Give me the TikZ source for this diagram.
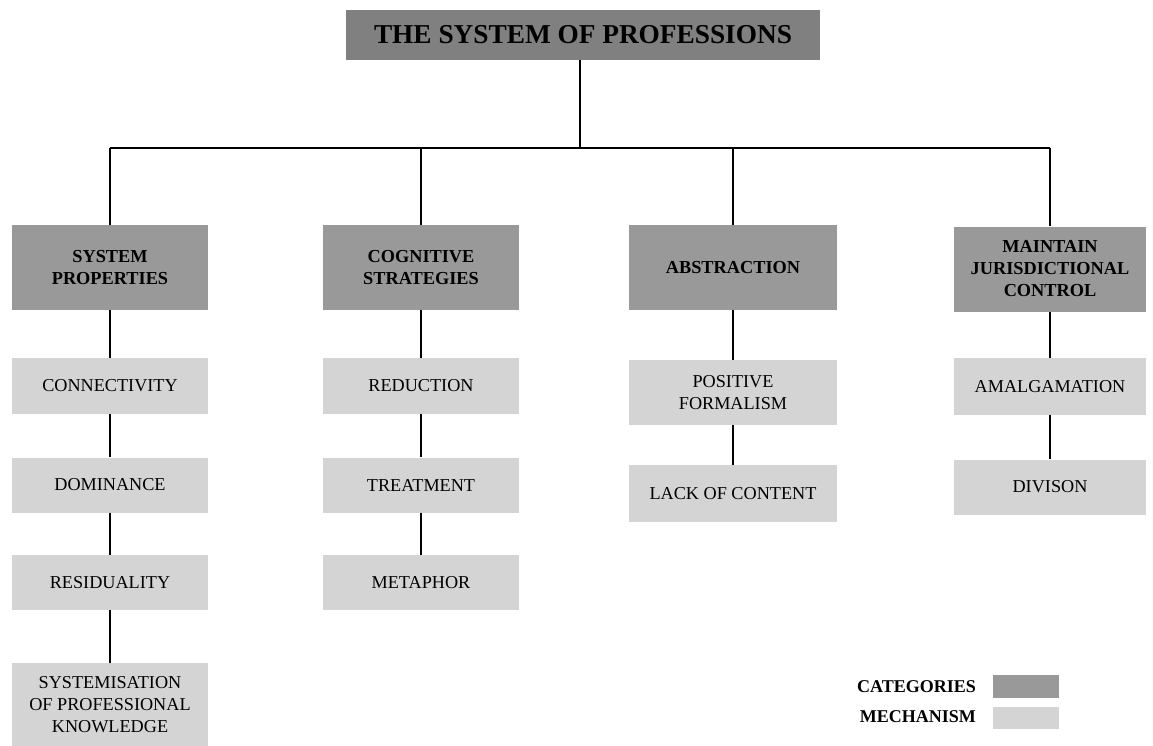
\documentclass[tikz,border=0pt]{standalone}
\usepackage{fontspec}
\setmainfont{Liberation Serif}
\definecolor{titlegray}{HTML}{808080}
\definecolor{catgray}{HTML}{999999}
\definecolor{mechgray}{HTML}{D4D4D4}
\begin{document}
\begin{tikzpicture}[x=1pt,y=-1pt,
  box/.style={rectangle,inner sep=0pt,align=center,anchor=center},
  titlebox/.style={box,fill=titlegray,font=\fontsize{27.3}{32}\selectfont\bfseries},
  catbox/.style={box,fill=catgray,font=\fontsize{18.3}{22}\selectfont\bfseries},
  mechbox/.style={box,fill=mechgray,font=\fontsize{18.2}{22}\selectfont},
  legtext/.style={anchor=east,inner sep=0pt,font=\fontsize{18}{22}\selectfont\bfseries},
  link/.style={draw=black,line width=1.3pt}]
\useasboundingbox (0,0) rectangle (1153,745);

% title
\node[titlebox,minimum width=474pt,minimum height=50pt] (title) at (583,35) {THE SYSTEM OF PROFESSIONS};

% categories
\node[catbox,minimum width=196pt,minimum height=85pt] (c1) at (110,267.5) {SYSTEM\\PROPERTIES};
\node[catbox,minimum width=196pt,minimum height=85pt] (c2) at (421,267.5) {COGNITIVE\\STRATEGIES};
\node[catbox,minimum width=208pt,minimum height=85pt] (c3) at (733,267.5) {ABSTRACTION};
\node[catbox,minimum width=192pt,minimum height=85pt] (c4) at (1050,269) {MAINTAIN\\JURISDICTIONAL\\CONTROL};

% mechanisms column 1
\node[mechbox,minimum width=196pt,minimum height=56pt] (m11) at (110,386) {CONNECTIVITY};
\node[mechbox,minimum width=196pt,minimum height=55pt] (m12) at (110,485) {DOMINANCE};
\node[mechbox,minimum width=196pt,minimum height=55pt] (m13) at (110,582.5) {RESIDUALITY};
\node[mechbox,minimum width=196pt,minimum height=84pt] (m14) at (110,705) {SYSTEMISATION\\OF PROFESSIONAL\\KNOWLEDGE};

% column 2
\node[mechbox,minimum width=196pt,minimum height=56pt] (m21) at (421,386) {REDUCTION};
\node[mechbox,minimum width=196pt,minimum height=55pt] (m22) at (421,485) {TREATMENT};
\node[mechbox,minimum width=196pt,minimum height=55pt] (m23) at (421,582.5) {METAPHOR};

% column 3
\node[mechbox,minimum width=208pt,minimum height=65pt] (m31) at (733,392.5) {POSITIVE\\FORMALISM};
\node[mechbox,minimum width=208pt,minimum height=57pt] (m32) at (733,493.5) {LACK OF CONTENT};

% column 4
\node[mechbox,minimum width=192pt,minimum height=57pt] (m41) at (1050,386.5) {AMALGAMATION};
\node[mechbox,minimum width=192pt,minimum height=55pt] (m42) at (1050,487) {DIVISON};

% bus
\coordinate (bus) at (580,148);
\draw[link] (title.south -| bus) -- (bus);
\draw[link] (c1.north |- bus) -- (c4.north |- bus);
\foreach \c in {c1,c2,c3,c4} \draw[link] (\c.north) -- (\c.north |- bus);

% vertical links
\draw[link] (c1) -- (m11) (m11) -- (m12) (m12) -- (m13) (m13) -- (m14);
\draw[link] (c2) -- (m21) (m21) -- (m22) (m22) -- (m23);
\draw[link] (c3) -- (m31) (m31) -- (m32);
\draw[link] (c4) -- (m41) (m41) -- (m42);

% legend
\node[box,fill=catgray,minimum width=66pt,minimum height=23pt] (lc) at (1026,686.5) {};
\node[box,fill=mechgray,minimum width=66pt,minimum height=22pt] (lm) at (1026,718) {};
\node[legtext] (lct) at (976,687) {CATEGORIES};
\node[legtext] (lmt) at (976,717) {MECHANISM};
\end{tikzpicture}
\end{document}
